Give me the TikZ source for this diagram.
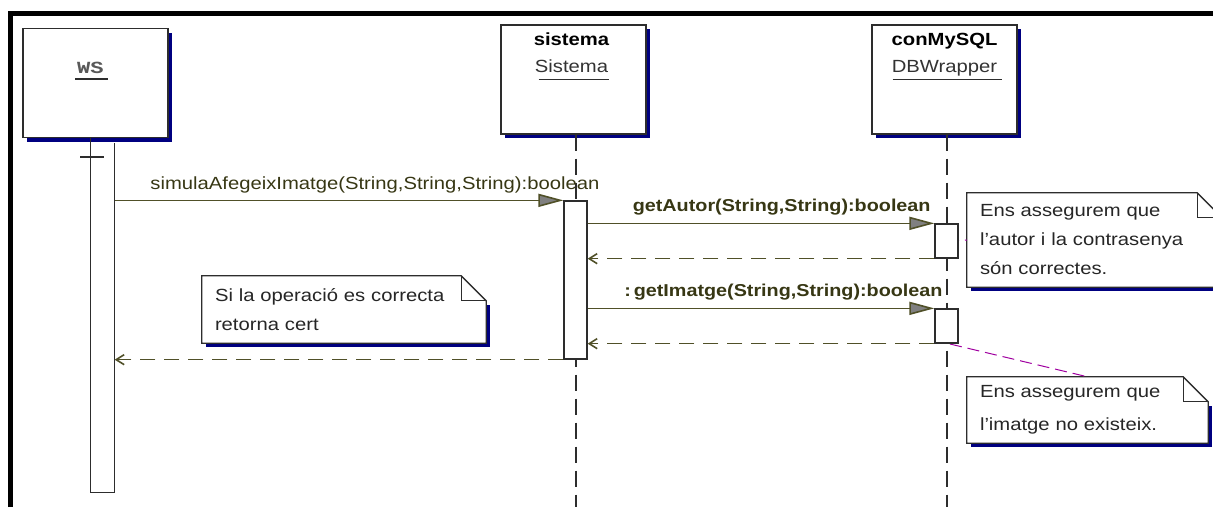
\documentclass[tikz,border=0pt]{standalone}
\usepackage{fontspec}
\setmainfont{Liberation Sans}[FakeStretch=1.15]
\newfontfamily\monofont{Liberation Mono}[FakeStretch=1.3]
\usetikzlibrary{arrows.meta,shadows,backgrounds,positioning}

\definecolor{boxline}{RGB}{45,45,45}
\definecolor{msgline}{RGB}{80,80,40}
\definecolor{msgtext}{RGB}{55,55,20}
\definecolor{navyshadow}{RGB}{0,0,128}
\definecolor{linkcol}{RGB}{160,0,160}

\tikzset{
  obj/.style={draw=boxline, line width=1.3pt, fill=white, minimum width=145pt,
    minimum height=109pt, inner sep=0pt,
    drop shadow={shadow xshift=4pt, shadow yshift=-4pt, fill=navyshadow, opacity=1}},
  title/.style={inner sep=0pt, anchor=base, font=\fontsize{17.6}{20}\selectfont},
  lifeline/.style={draw=boxline, line width=1.3pt, dash pattern=on 16pt off 8pt},
  act/.style={draw=boxline, line width=1.3pt, fill=white, minimum width=23pt, inner sep=0pt},
  call/.style={draw=msgline, line width=1.6pt,
    -{Triangle[length=25pt, width=13pt, fill=gray]}},
  ret/.style={draw=msgline, line width=1.6pt, dash pattern=on 15pt off 9pt,
    -{Straight Barb[length=8pt, width=10pt]}},
  msg/.style={inner sep=0pt, text=msgtext, font=\fontsize{17.6}{20}\selectfont},
  msgb/.style={msg, font=\fontsize{17.2}{20}\selectfont\bfseries},
  note/.style={inner xsep=13pt, inner ysep=0pt, align=left, text=black!85},
  noteline/.style={draw=boxline, line width=1.3pt},
  link/.style={draw=linkcol, line width=1pt, dash pattern=on 12pt off 6pt}
}

% sheet of paper with a folded corner behind a note
\newcommand{\foldnote}[1]{%
  \begin{scope}[on background layer]
    \fill[navyshadow] ([shift={(4pt,-4pt)}]#1.south west) rectangle ([shift={(4pt,-29pt)}]#1.north east);
    \draw[noteline, fill=white] (#1.south west) -- (#1.north west) -- ([xshift=-25pt]#1.north east)
      -- ([yshift=-25pt]#1.north east) -- (#1.south east) -- cycle;
    \draw[noteline] ([xshift=-25pt]#1.north east) |- ([yshift=-25pt]#1.north east);
  \end{scope}}

\begin{document}
\begin{tikzpicture}[x=1pt, y=-1pt]
  \useasboundingbox (0,0) rectangle (1213,507);
  \draw[line width=5pt] (10.5,507) -- (10.5,13) -- (1213,13);

  % objects
  \node[obj] (ws) at (95.5,83) {};
  \node[obj] (sys) at (573.5,79.5) {};
  \node[obj] (db) at (944.5,79.5) {};

  \node[title, font=\fontsize{17}{18}\monofont\bfseries, text=black!65] (wsName) at ([xshift=-5pt, yshift=-46pt]ws.north) {WS};
  \node[title, font=\fontsize{17.6}{20}\selectfont\bfseries] (sysObj) at ([xshift=-2pt, yshift=-21pt]sys.north) {sistema};
  \node[title, text=black!80] (sysClass) at ([xshift=-2pt, yshift=-48pt]sys.north) {Sistema};
  \node[title, font=\fontsize{17.6}{20}\selectfont\bfseries] (dbObj) at ([yshift=-21pt]db.north) {conMySQL};
  \node[title, text=black!80] (dbClass) at ([yshift=-48pt]db.north) {DBWrapper};
  \draw[boxline, line width=1.3pt] ([shift={(-2pt,-5pt)}]wsName.base west) -- ([shift={(4pt,-5pt)}]wsName.base east);
  \draw[boxline, line width=1.3pt] ([shift={(4pt,-7pt)}]sysClass.base west) -- ([shift={(1pt,-7pt)}]sysClass.base east);
  \draw[boxline, line width=1.3pt] ([shift={(1pt,-7pt)}]dbClass.base west) -- ([shift={(5pt,-7pt)}]dbClass.base east);

  % lifelines
  \coordinate (sysEnd) at (576,507);
  \coordinate (dbEnd) at (947,507);
  \draw[lifeline] (sys.south -| sysEnd) -- (sysEnd);
  \draw[lifeline] (db.south -| dbEnd) -- (dbEnd);

  % activations
  \node[act, draw=none, minimum height=348pt] (wsAct) at (102.5,318) {};
  \draw[boxline, line width=1.3pt] (ws.south -| wsAct.west) -- (wsAct.south west) -- (wsAct.south east) -- (wsAct.north east);
  \draw[boxline, line width=2pt] ([xshift=-10pt, yshift=-14pt]wsAct.north west) -- ([xshift=14pt, yshift=-14pt]wsAct.north west);
  \node[act, minimum height=158pt] (sysAct) at (575.5,280) {};

  % notes
  \node[note, text width=229pt, minimum height=94pt, font=\fontsize{17.6}{29}\selectfont] (n1) at (1094.5,240)
    {Ens assegurem que\\l'autor i la contrasenya\\són correctes.};
  \node[note, text width=215pt, minimum height=66pt, font=\fontsize{17.6}{33}\selectfont] (n2) at (1087.5,410)
    {Ens assegurem que\\l'imatge no existeix.};
  \node[note, text width=258pt, minimum height=67pt, font=\fontsize{17.6}{29}\selectfont] (n3) at (344,309.5)
    {Si la operació es correcta\\retorna cert};
  \foldnote{n1}
  \foldnote{n2}
  \foldnote{n3}

  \coordinate (lk1) at (947,241);
  \coordinate (lk2) at (950,344);
  \draw[link] (lk1) -- (n1.west);
  \draw[link] (lk2) -- (n2.north);

  \node[act, minimum height=34pt] (dbA) at (946.5,241) {};
  \node[act, minimum height=34pt] (dbB) at (946.5,326) {};

  % messages
  \draw[call] (wsAct.east |- sysAct.north) -- node[msg, pos=0, anchor=base west, xshift=35pt, yshift=11pt] (m1)
    {simulaAfegeixImatge(String,String,String):boolean} (sysAct.north west);
  \draw[call] (sysAct.east |- dbA.north) -- node[msgb, pos=1, anchor=base east, xshift=-3pt, yshift=12pt] (m2)
    {getAutor(String,String):boolean} (dbA.north west);
  \draw[ret] (dbA.south west) -- (sysAct.east |- dbA.south);
  \draw[call] (sysAct.east |- dbB.north) -- node[msgb, pos=1, anchor=base east, xshift=9pt, yshift=12pt] (m3)
    {:\,getImatge(String,String):boolean} (dbB.north west);
  \draw[ret] (dbB.south west) -- (sysAct.east |- dbB.south);
  \draw[ret] (sysAct.south west) -- (wsAct.east |- sysAct.south);
\end{tikzpicture}
\end{document}
